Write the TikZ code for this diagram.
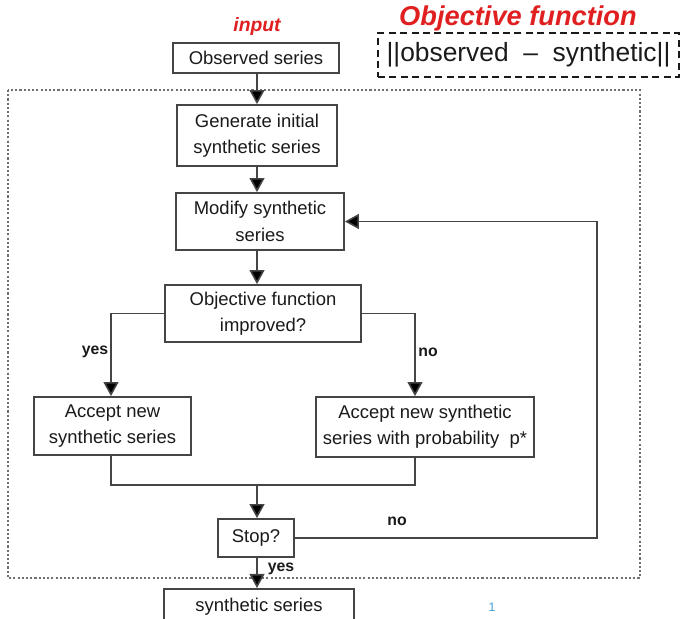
\documentclass[tikz,border=0pt]{standalone}
\usepackage{fontspec}
\setmainfont{Liberation Sans}
\usetikzlibrary{arrows.meta,calc}
\definecolor{linec}{HTML}{454545}
\definecolor{redt}{HTML}{E02020}
\definecolor{txt}{HTML}{1A1A1A}
\definecolor{pgnum}{HTML}{3AA0D0}
\definecolor{dotc}{HTML}{707070}
\begin{document}
\begin{tikzpicture}[x=0.02cm,y=-0.02cm,
 box/.style={draw=linec, line width=1pt, fill=white, text=txt, font=\fontsize{10.5}{15}\selectfont, align=center, inner sep=0pt},
 arr/.style={draw=linec, line width=0.9pt, -{Triangle[width=8.5pt,length=8pt,fill=black]}},
 ln/.style={draw=linec, line width=0.9pt},
 lbl/.style={font=\bfseries\fontsize{9}{11}\selectfont, text=txt}]
\useasboundingbox (0,0) rectangle (684,619);
\clip (0,0) rectangle (684,619);
% outer dotted frame
\draw[dotc, dash pattern=on 1.2pt off 1.2pt, line width=0.6pt] (8,90) rectangle (640,578);
% titles
\node[font=\bfseries\itshape\fontsize{11}{13}\selectfont, text=redt] (inp) at (257,27) {input};
\node[font=\bfseries\itshape\fontsize{15.5}{18}\selectfont, text=redt] (objt) at (518,18) {Objective function};
\node[draw=txt, dash pattern=on 4pt off 2.5pt, line width=0.9pt, minimum width=6.02cm, minimum height=0.88cm, inner sep=0pt, font=\fontsize{15}{18}\selectfont, text=txt] (objf) at (528.5,55) {||observed \ – \ synthetic||};
% nodes
\node[box, minimum width=3.32cm, minimum height=0.6cm] (obs) at (256,58) {Observed series};
\node[box, minimum width=3.2cm, minimum height=1.22cm] (gen) at (257,135.5) {Generate initial\\synthetic series};
\node[box, minimum width=3.36cm, minimum height=1.14cm] (mod) at (260,221.5) {Modify synthetic\\series};
\node[box, minimum width=3.92cm, minimum height=1.14cm] (obj) at (263,313.5) {Objective function\\improved?};
\node[box, minimum width=3.14cm, minimum height=1.16cm] (acc) at (112.5,426) {Accept new\\synthetic series};
\node[box, minimum width=4.36cm, minimum height=1.2cm] (prob) at (425,427) {Accept new synthetic\\series with probability \ p*};
\node[box, minimum width=1.52cm, minimum height=0.76cm] (stop) at (256,538) {Stop?};
\node[box, minimum width=3.8cm, minimum height=0.74cm, anchor=north] (syn) at (259,588) {\raisebox{0.12cm}{synthetic series}};
\node[font=\fontsize{7}{8}\selectfont, text=pgnum] (pg) at (492,607) {1};
% coordinates
\coordinate (pl) at (415,0);
\coordinate (m) at (257,485);
\coordinate (fb) at (597,221.5);
% connectors
\draw[arr] (obs.south -| 257,0) -- (gen.north -| 257,0);
\draw[arr] (gen.south -| 257,0) -- (mod.north -| 257,0);
\draw[arr] (mod.south -| 257,0) -- (obj.north -| 257,0);
\draw[arr] (obj.west) -| (acc.north -| 111,0);
\draw[arr] (obj.east) -| (prob.north -| pl);
\draw[ln] (acc.south -| 111,0) |- (m);
\draw[ln] (prob.south -| pl) |- (m);
\draw[arr] (m) -- (stop.north -| m);
\draw[arr] (stop.east) -| (fb) -- (mod.east);
\draw[arr] (stop.south -| m) -- (syn.north -| m);
% labels
\node[lbl] (ly) at (95,352) {yes};
\node[lbl] (ln) at (428,352) {no};
\node[lbl] (lno) at (397,521) {no};
\node[lbl] (lyes) at (281,569) {yes};
\end{tikzpicture}
\end{document}
